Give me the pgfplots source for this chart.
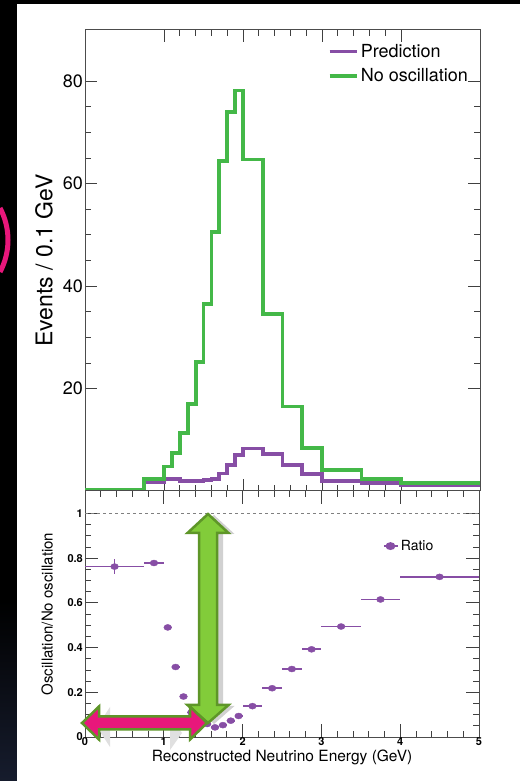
\documentclass[border=0pt]{standalone}
\usepackage{fontspec}
\setmainfont{TeX Gyre Heros}
\usepackage{pgfplots}
\usepackage{pgfplotstable}
\pgfplotsset{compat=1.18}
\definecolor{pgreen}{RGB}{68,184,72}
\definecolor{ppurple}{RGB}{135,78,165}
\definecolor{agreen}{RGB}{130,204,58}
\definecolor{aborder}{RGB}{94,150,40}
\definecolor{apink}{RGB}{232,23,123}
\definecolor{navy}{RGB}{22,28,45}

\pgfplotstableread{
E v
0    0.2
0.75 2.3
1.0  4.8
1.1  7.4
1.2  11.3
1.3  17.0
1.4  25.2
1.5  36.5
1.6  50.5
1.7  64.4
1.8  74.0
1.9  78.2
2.0  64.7
2.25 34.5
2.5  16.5
2.75 8.4
3.0  4.1
3.5  2.3
4.0  1.6
5.0  1.6
}\noosc

\pgfplotstableread{
E v
0    0.15
0.75 1.8
1.0  2.4
1.1  2.3
1.2  2.0
1.3  1.9
1.4  1.9
1.5  2.1
1.6  2.3
1.7  3.4
1.8  5.0
1.9  7.0
2.0  8.3
2.25 7.3
2.5  5.0
2.75 3.3
3.0  2.0
3.5  1.5
4.0  1.2
5.0  1.2
}\pred

\pgfplotstableread{
x     y     ex    ey
0.375 0.762 0.375 0.035
0.875 0.778 0.125 0.008
1.05  0.490 0.05  0.005
1.15  0.313 0.05  0.005
1.25  0.181 0.05  0.005
1.35  0.110 0.05  0.004
1.45  0.075 0.05  0.004
1.55  0.058 0.05  0.003
1.65  0.043 0.05  0.003
1.75  0.053 0.05  0.003
1.85  0.073 0.05  0.003
1.95  0.094 0.05  0.003
2.125 0.138 0.125 0.005
2.375 0.218 0.125 0.005
2.625 0.304 0.125 0.005
2.875 0.392 0.125 0.006
3.25  0.494 0.25  0.008
3.75  0.615 0.25  0.010
4.5   0.716 0.5   0.010
}\ratio

\begin{document}
\begin{tikzpicture}[x=1pt,y=1pt]
\fill[black] (0,0) rectangle (520,781);
\shade[top color=black, bottom color=navy] (0,0) rectangle (17,181);
\fill[white] (17,0) rectangle (520,777);
\begin{scope}
\clip (0,0) rectangle (17,781);
\draw[apink, line width=5] (-60,541) ++(-28:68) arc[start angle=-28, end angle=28, radius=68];
\end{scope}

% ---------- upper panel ----------
\begin{axis}[
  at={(85pt,290pt)}, anchor=south west, scale only axis,
  width=395pt, height=461pt,
  xmin=0, xmax=5, ymin=0, ymax=90,
  xtick={1,2,3,4}, xticklabels={}, minor x tick num=4,
  ytick={20,40,60,80}, minor y tick num=3,
  tick align=inside, major tick length=12pt, minor tick length=6pt,
  tick style={black!75, line width=0.8pt},
  axis line style={black!70, line width=1pt},
  ticklabel style={font=\fontsize{18}{20}\selectfont},
  /pgf/number format/assume math mode=true,
  yticklabel style={inner sep=1pt, xshift=-1pt},
  ylabel={Events / 0.1 GeV},
  ylabel style={font=\fontsize{23}{26}\selectfont, at={(axis description cs:-0.104,0.5)}, anchor=center},
  legend style={draw=none, fill=none, at={(axis description cs:0.613,0.974)}, anchor=north west,
                font=\fontsize{18}{20}\selectfont, inner sep=0pt, row sep=6pt},
  legend cell align=left,
  legend image code/.code={\draw[#1] (0pt,0pt) -- (27pt,0pt);},
]
\addlegendimage{ppurple, line width=3pt}
\addlegendentry{Prediction}
\addlegendimage{pgreen, line width=4.5pt}
\addlegendentry{No oscillation}
\addplot[const plot, ppurple, line width=3.8pt, forget plot] table[x=E,y=v] {\pred};
\addplot[const plot, pgreen, line width=3.8pt, forget plot] table[x=E,y=v] {\noosc};
\end{axis}

% ---------- lower panel ----------
\begin{axis}[
  at={(85pt,44pt)}, anchor=south west, scale only axis,
  width=394pt, height=246pt,
  xmin=0, xmax=5, ymin=0, ymax=1.1,
  xtick={0,1,2,3,4,5}, minor x tick num=4,
  ytick={0,0.2,0.4,0.6,0.8,1}, yticklabels={0,0.2,0.4,0.6,0.8,1}, minor y tick num=3,
  tick align=inside, major tick length=13pt, minor tick length=6pt,
  tick style={black!75, line width=0.8pt},
  axis line style={black!70, line width=1pt},
  ticklabel style={font=\fontsize{11}{12}\selectfont\bfseries},
  /pgf/number format/assume math mode=true,
  yticklabel style={inner sep=1pt, xshift=-1pt},
  xticklabel style={inner sep=0.5pt},
  xlabel={Reconstructed Neutrino Energy (GeV)},
  xlabel style={font=\fontsize{15.5}{17}\selectfont, at={(axis description cs:0.5,-0.081)}, anchor=center},
  ylabel={Oscillation/No oscillation},
  ylabel style={font=\fontsize{15}{17}\selectfont, at={(axis description cs:-0.096,0.5)}, anchor=center},
  legend style={draw=none, fill=none, at={(axis description cs:0.756,0.776)}, anchor=west,
                font=\fontsize{14}{16}\selectfont, inner sep=0pt},
  legend image code/.code={\draw[#1] (0pt,0pt) -- (14pt,0pt); \fill[#1] (6.5pt,0pt) ellipse (4pt and 3pt);},
]
\draw[black!50, dashed, line width=0.6pt] (axis cs:0,1) -- (axis cs:5,1);
\addlegendimage{ppurple, line width=1.8pt}
\addlegendentry{Ratio}
\addplot[only marks, ppurple, mark=*, mark size=3pt, mark options={xscale=1.3, ppurple}, forget plot,
  error bars/.cd, x dir=both, x explicit, y dir=both, y explicit,
  error bar style={line width=1.8pt, ppurple}, error mark=none]
  table[x=x, y=y, x error=ex, y error=ey] {\ratio};
\end{axis}

% ---------- annotation arrows ----------
\fill[black!18] (214,266) -- (234.5,247) -- (223,247) -- (223,75) -- (234.5,75) -- (214,57) -- (193.5,75) -- (205,75) -- (205,247) -- (193.5,247) -- cycle;
\fill[black!12] (97,54) -- (110,74) -- (110,34) -- cycle;
\fill[black!12] (182,48) -- (170,64) -- (170,31) -- cycle;
\filldraw[fill=agreen, draw=aborder, line width=2.5pt, line join=miter]
  (208,267) -- (228.5,248) -- (217,248) -- (217,76) -- (228.5,76) -- (208,58)
  -- (187.5,76) -- (199,76) -- (199,248) -- (187.5,248) -- cycle;
\filldraw[fill=apink, draw=aborder, line width=2.5pt, line join=miter]
  (82,58) -- (99,74.5) -- (99,64.5) -- (190,64.5) -- (190,74.5) -- (207,58)
  -- (190,41.5) -- (190,51.5) -- (99,51.5) -- (99,41.5) -- cycle;
\pgfresetboundingbox
\useasboundingbox (0,0) rectangle (520,781);
\end{tikzpicture}
\end{document}
